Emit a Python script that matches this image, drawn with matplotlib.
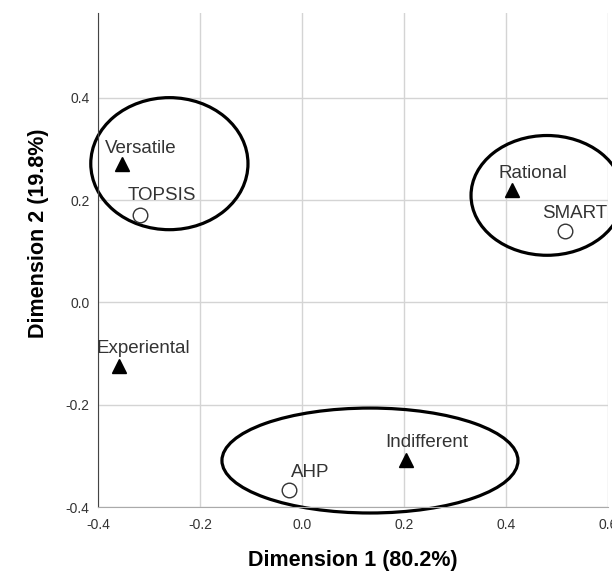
import matplotlib
matplotlib.use('Agg')
import matplotlib.pyplot as plt
from matplotlib.patches import Ellipse

plt.rcParams['font.family'] = ['Liberation Sans', 'DejaVu Sans']

# points (dimension 1, dimension 2)
styles = ['Versatile', 'Experiental', 'Rational', 'Indifferent']
style_x = [-0.353, -0.359, 0.412, 0.204]
style_y = [0.271, -0.125, 0.220, -0.308]

methods = ['TOPSIS', 'SMART', 'AHP']
method_x = [-0.318, 0.516, -0.025]
method_y = [0.170, 0.139, -0.367]

# grouping ellipses: centre x, centre y, width, height
ell_cx = [-0.260, 0.480, 0.133]
ell_cy = [0.271, 0.209, -0.309]
ell_w = [0.308, 0.298, 0.580]
ell_h = [0.258, 0.234, 0.205]

ticks = [-0.4, -0.2, 0.0, 0.2, 0.4, 0.6]
tick_labels = ['-0.4', '-0.2', '0.0', '0.2', '0.4', '0.6']

# label offsets from their marker, in pixels (left edge, baseline)
style_off = [(-17, 11), (-22, 13), (-14, 12), (-21, 13)]
method_off = [(-12, 15), (-23, 13), (2, 13)]

fig = plt.figure(figsize=(6.12, 5.73), dpi=100)
ax = fig.add_axes([0.160, 0.115, 0.834, 0.862])

ax.set_xlim(-0.4, 0.6)
ax.set_ylim(-0.4, 0.565)
ax.set_xticks(ticks)
ax.set_xticklabels(tick_labels)
ax.set_yticks(ticks[:-1])
ax.set_yticklabels(tick_labels[:-1])
ax.tick_params(length=0, labelsize=10, labelcolor='#333333')
ax.tick_params(axis='y', pad=6)
ax.tick_params(axis='x', pad=8)
ax.grid(True, color='#d4d4d4', lw=1)
ax.set_axisbelow(True)

for s in ['top', 'right']:
    ax.spines[s].set_visible(False)
ax.spines['left'].set_color('#444444')
ax.spines['bottom'].set_color('#aaaaaa')

ax.plot(style_x, style_y, '^', color='black', ms=10, ls='none')
ax.plot(method_x, method_y, 'o', mfc='white', mec='#333333', ms=10.5, mew=1, ls='none')

px = 0.72  # pixels -> points at 100 dpi
for name, x, y, (dx, dy) in zip(styles + methods, style_x + method_x,
                                style_y + method_y, style_off + method_off):
    ax.annotate(name, (x, y), xytext=(dx * px, dy * px), textcoords='offset points',
                fontsize=13.5, color='#333333')

for cx, cy, w, h in zip(ell_cx, ell_cy, ell_w, ell_h):
    ax.add_patch(Ellipse((cx, cy), w, h, fill=False, ec='black', lw=2.3, clip_on=False))

ax.set_xlabel('Dimension 1 (80.2%)', fontsize=15.5, fontweight='bold', labelpad=13)
ax.set_ylabel('Dimension 2 (19.8%)', fontsize=15.5, fontweight='bold', labelpad=11)
ax.yaxis.set_label_coords(-0.095, 0.555)

fig.savefig('out.png', dpi=100)
